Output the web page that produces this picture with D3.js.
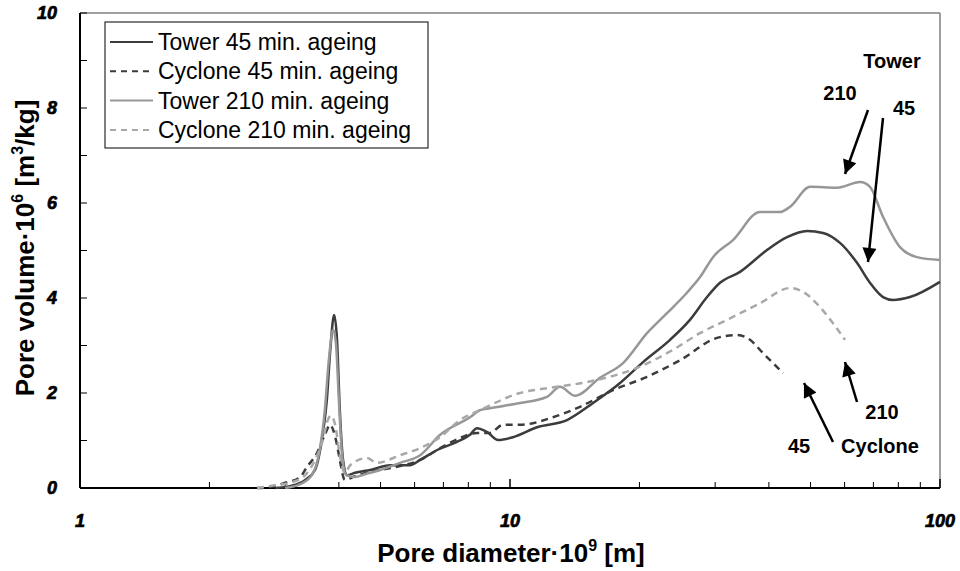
<!DOCTYPE html>
<html>
<head>
<meta charset="utf-8">
<script src="https://cdn.jsdelivr.net/npm/d3@7"></script>
<style>
  html, body { margin: 0; padding: 0; background: #fff; }
  svg { display: block; font-family: "Liberation Sans", Arial, sans-serif; }
</style>
</head>
<body>
<svg id="chart" width="960" height="571"></svg>
<script>
// Pore size distributions: [pore diameter (nm), pore volume (1e-6 m3/kg)]
const tower45 = [
  [2.84, 0], [3.08, 0.04], [3.34, 0.17], [3.52, 0.38], [3.65, 1.01], [3.75, 1.85],
  [3.82, 2.91], [3.90, 3.64], [3.96, 3.12], [4.02, 1.64], [4.09, 0.59], [4.18, 0.27],
  [4.36, 0.32], [4.73, 0.38], [5.26, 0.48], [5.85, 0.48], [6.18, 0.59], [6.77, 0.80],
  [7.53, 0.97], [8.07, 1.12], [8.38, 1.26], [8.84, 1.18], [9.38, 1.01], [10.16, 1.07],
  [11.56, 1.28], [13.57, 1.43], [15.60, 1.79], [18.03, 2.21], [20.39, 2.65], [23.56, 3.12],
  [26.21, 3.54], [28.72, 4.02], [30.78, 4.32], [34.27, 4.55], [39.60, 5.01], [44.09, 5.28],
  [49.06, 5.41], [53.44, 5.37], [58.54, 5.16], [64.12, 4.74], [68.73, 4.32], [73.69, 4.02],
  [77.74, 3.96], [85.16, 4.02], [100, 4.34]
];
const cyclone45 = [
  [2.58, 0], [2.77, 0.02], [3.00, 0.11], [3.25, 0.23], [3.37, 0.44], [3.56, 0.74],
  [3.71, 1.12], [3.82, 1.33], [3.88, 1.22], [3.96, 0.91], [4.02, 0.59], [4.13, 0.17],
  [4.36, 0.25], [4.73, 0.34], [4.99, 0.38], [5.55, 0.46], [6.18, 0.59], [6.88, 0.84],
  [7.65, 1.05], [8.38, 1.16], [8.98, 1.16], [9.63, 1.33], [10.55, 1.33], [12.59, 1.49],
  [14.55, 1.71], [17.36, 2.06], [20.83, 2.34], [24.85, 2.69], [30.30, 3.16], [33.72, 3.22],
  [36.15, 3.12], [38.76, 2.84], [43.15, 2.42]
];
const tower210 = [
  [3.00, 0], [3.25, 0.08], [3.46, 0.27], [3.61, 0.80], [3.71, 1.64], [3.79, 2.69],
  [3.88, 3.33], [3.94, 3.01], [4.00, 1.85], [4.07, 0.69], [4.16, 0.27], [4.36, 0.23],
  [4.60, 0.29], [4.99, 0.38], [5.55, 0.53], [6.18, 0.69], [6.88, 1.12], [8.07, 1.49],
  [8.52, 1.64], [8.98, 1.68], [10.55, 1.79], [12.19, 1.92], [13.07, 2.13], [14.17, 1.94],
  [16.19, 2.32], [18.32, 2.63], [20.83, 3.26], [23.18, 3.68], [25.79, 4.11], [27.67, 4.44],
  [29.66, 4.86], [33.00, 5.22], [38.14, 5.81], [42.46, 5.81], [44.80, 5.92], [49.85, 6.34],
  [57.60, 6.32], [65.16, 6.44], [68.73, 6.34], [73.69, 5.71], [80.72, 5.07], [88.43, 4.86],
  [100, 4.80]
];
const cyclone210 = [
  [2.58, 0], [2.84, 0.06], [3.08, 0.11], [3.34, 0.27], [3.52, 0.59], [3.67, 1.01],
  [3.77, 1.43], [3.83, 1.52], [3.92, 1.33], [4.02, 0.69], [4.13, 0.32], [4.25, 0.48],
  [4.65, 0.63], [4.91, 0.53], [5.55, 0.69], [6.18, 0.84], [6.88, 1.07], [7.65, 1.43],
  [8.52, 1.64], [10.55, 2.00], [12.39, 2.11], [15.11, 2.23], [19.74, 2.53], [23.94, 2.91],
  [27.67, 3.26], [31.96, 3.54], [38.14, 3.89], [44.80, 4.21], [48.02, 4.13], [52.59, 3.81],
  [56.38, 3.47], [60.14, 3.12]
];

const seriesNames = ["Tower 45 min. ageing", "Cyclone 45 min. ageing", "Tower 210 min. ageing", "Cyclone 210 min. ageing"];
const xTickValues = [1, 10, 100];
const yTickValues = [0, 2, 4, 6, 8, 10];

const series = [
  { name: seriesNames[0], data: tower45,   color: "#3c3c3c", dash: null },
  { name: seriesNames[1], data: cyclone45, color: "#3c3c3c", dash: "7,5" },
  { name: seriesNames[2], data: tower210,  color: "#979797", dash: null },
  { name: seriesNames[3], data: cyclone210, color: "#a8a8a8", dash: "7,5" }
];

const svg = d3.select("#chart");
const plotLeft = 80, plotRight = 940, plotTop = 13, plotBottom = 488;

const x = d3.scaleLog().domain([1, 100]).range([plotLeft, plotRight]);
const y = d3.scaleLinear().domain([0, 10]).range([plotBottom, plotTop]);

// frame: grey top/right, black axes
svg.append("line").attr("x1", plotLeft).attr("x2", plotRight).attr("y1", plotTop).attr("y2", plotTop)
  .attr("stroke", "#808080").attr("stroke-width", 1.5);
svg.append("line").attr("x1", plotRight).attr("x2", plotRight).attr("y1", plotTop).attr("y2", plotBottom)
  .attr("stroke", "#808080").attr("stroke-width", 1.5);

// tick labels: heavy italic numerals
function tickLabel(sel) {
  sel.attr("font-size", 18).attr("font-weight", "bold").attr("font-style", "italic")
    .attr("fill", "#000").attr("stroke", "#000").attr("stroke-width", 0.7);
}

// x axis: ticks point inward
const xMinor = [];
for (let dec = 1; dec < 100; dec *= 10) for (let k = 2; k <= 9; k++) xMinor.push(dec * k);
const xAxis = svg.append("g").attr("transform", `translate(0,${plotBottom})`);
xAxis.selectAll("line.minor").data(xMinor).enter().append("line")
  .attr("x1", d => x(d)).attr("x2", d => x(d)).attr("y1", 0).attr("y2", -6)
  .attr("stroke", "#000").attr("stroke-width", 1);
xAxis.selectAll("line.major").data(xTickValues).enter().append("line")
  .attr("x1", d => x(d)).attr("x2", d => x(d)).attr("y1", 0).attr("y2", -9)
  .attr("stroke", "#000").attr("stroke-width", 1.5);
xAxis.append("line").attr("x1", plotLeft).attr("x2", plotRight).attr("y1", 0).attr("y2", 0)
  .attr("stroke", "#000").attr("stroke-width", 2);
xAxis.selectAll("text").data(xTickValues).enter().append("text")
  .attr("x", d => x(d)).attr("y", 39)
  .attr("text-anchor", "middle")
  .call(tickLabel)
  .text(d => d);

// y axis
const yMinor = d3.range(1, 10, 2);
const yAxis = svg.append("g").attr("transform", `translate(${plotLeft},0)`);
yAxis.selectAll("line.tick").data(yMinor.concat(yTickValues)).enter().append("line")
  .attr("x1", 0).attr("x2", 7).attr("y1", d => y(d)).attr("y2", d => y(d))
  .attr("stroke", "#000").attr("stroke-width", 1);
yAxis.append("line").attr("x1", 0).attr("x2", 0).attr("y1", plotTop).attr("y2", plotBottom)
  .attr("stroke", "#000").attr("stroke-width", 2);
yAxis.selectAll("text").data(yTickValues).enter().append("text")
  .attr("x", -23).attr("y", d => y(d) + 6)
  .attr("text-anchor", "end")
  .call(tickLabel)
  .text(d => d);

// axis titles
const xt = svg.append("text").attr("x", 511).attr("y", 562)
  .attr("text-anchor", "middle").attr("font-size", 26).attr("font-weight", "bold");
xt.append("tspan").text("Pore diameter·10");
xt.append("tspan").attr("font-size", 16).attr("dy", -11).text("9");
xt.append("tspan").attr("dy", 11).text(" [m]");

const yt = svg.append("text")
  .attr("transform", "translate(34,248) rotate(-90)")
  .attr("text-anchor", "middle").attr("font-size", 26).attr("font-weight", "bold");
yt.append("tspan").text("Pore volume·10");
yt.append("tspan").attr("font-size", 16).attr("dy", -11).text("6");
yt.append("tspan").attr("dy", 11).text(" [m");
yt.append("tspan").attr("font-size", 16).attr("dy", -11).text("3");
yt.append("tspan").attr("dy", 11).text("/kg]");

// curves
const line = d3.line().x(d => x(d[0])).y(d => y(d[1])).curve(d3.curveMonotoneX);
const plot = svg.append("g");
plot.selectAll("path").data(series).enter().append("path")
  .attr("d", d => line(d.data))
  .attr("fill", "none")
  .attr("stroke", d => d.color)
  .attr("stroke-width", 2.5)
  .attr("stroke-dasharray", d => d.dash)
  .attr("stroke-linejoin", "round");

// legend
const legend = svg.append("g");
legend.append("rect").attr("x", 105).attr("y", 22).attr("width", 323).attr("height", 126)
  .attr("fill", "#fff").attr("stroke", "#000").attr("stroke-width", 1);
const rows = legend.selectAll("g.row").data(series).enter().append("g")
  .attr("transform", (d, i) => `translate(0,${42 + i * 29.3})`);
rows.append("line").attr("x1", 110).attr("x2", 153).attr("y1", 0).attr("y2", 0)
  .attr("stroke", d => d.color).attr("stroke-width", 2)
  .attr("stroke-dasharray", d => d.dash ? "6,5" : null);
rows.append("text").attr("x", 158).attr("y", 8)
  .attr("font-size", 23).attr("fill", "#000")
  .text(d => d.name);

// annotation arrows
const defs = svg.append("defs");
defs.append("marker").attr("id", "head")
  .attr("viewBox", "0 0 10 10").attr("refX", 10).attr("refY", 5)
  .attr("markerUnits", "userSpaceOnUse")
  .attr("markerWidth", 16).attr("markerHeight", 14)
  .attr("orient", "auto")
  .append("path").attr("d", "M0,0 L10,5 L0,10 Z").attr("fill", "#000");

const arrows = [
  [868, 110, 845, 174],
  [883, 118, 868, 262],
  [857, 402, 845, 362],
  [833, 442, 804, 383]
];
svg.selectAll("line.arrow").data(arrows).enter().append("line")
  .attr("x1", d => d[0]).attr("y1", d => d[1]).attr("x2", d => d[2]).attr("y2", d => d[3])
  .attr("stroke", "#000").attr("stroke-width", 2.5)
  .attr("marker-end", "url(#head)");

const notes = [
  ["Tower", 892, 68], ["210", 840, 100], ["45", 904, 115],
  ["210", 882, 419], ["45", 799, 453], ["Cyclone", 880, 453]
];
svg.selectAll("text.note").data(notes).enter().append("text")
  .attr("x", d => d[1]).attr("y", d => d[2])
  .attr("text-anchor", "middle")
  .attr("font-size", 20).attr("font-weight", "bold")
  .text(d => d[0]);
</script>
</body>
</html>
